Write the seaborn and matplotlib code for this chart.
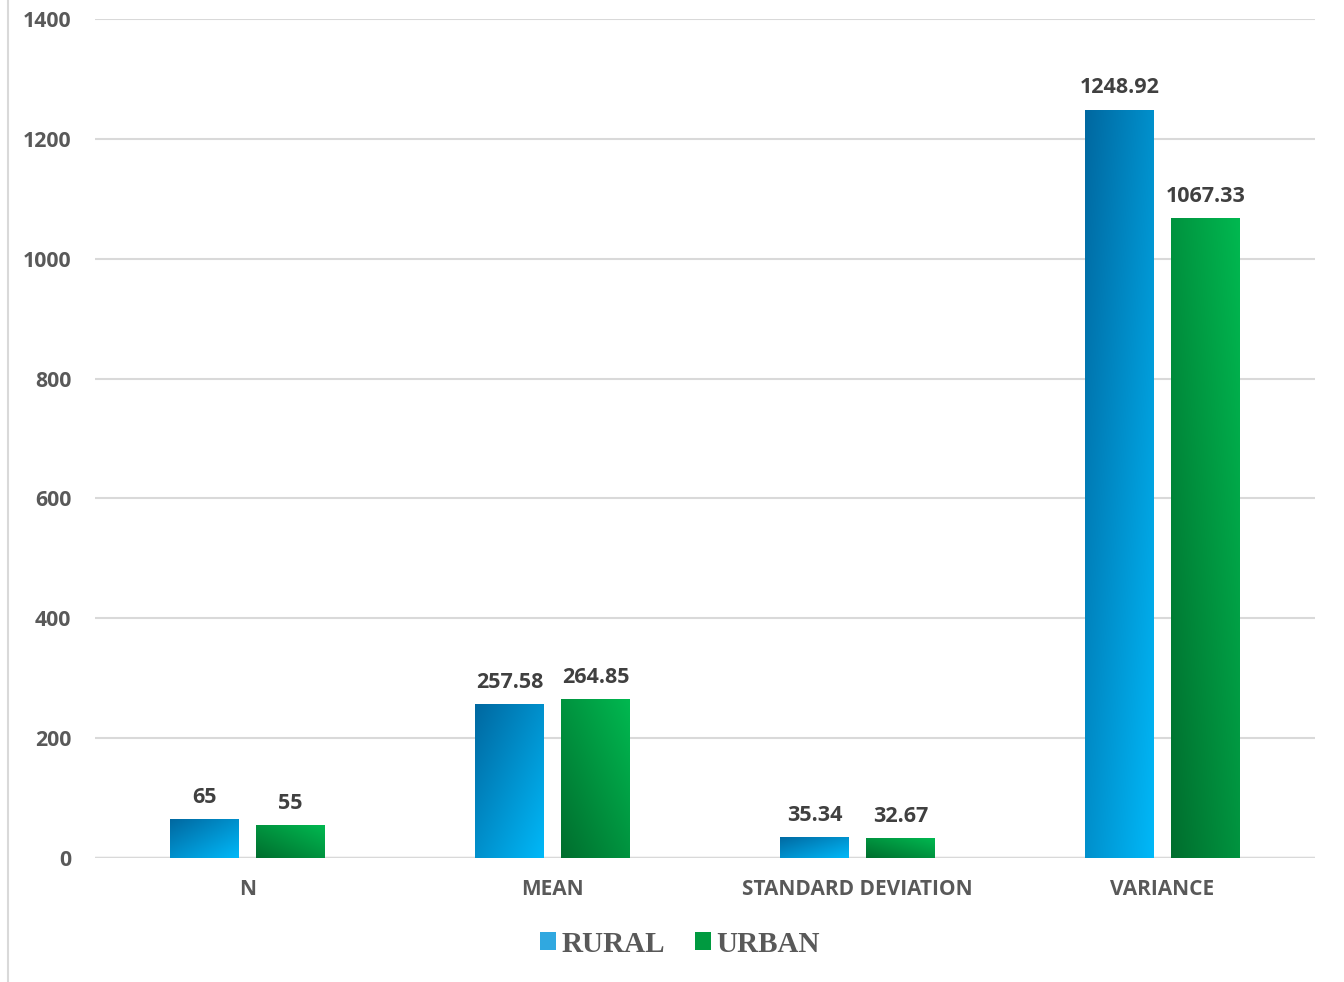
import numpy as np
import pandas as pd
import matplotlib
matplotlib.use("Agg")
import matplotlib.pyplot as plt
import seaborn as sns
from matplotlib.colors import to_rgb
from matplotlib.patches import Patch
from matplotlib.lines import Line2D

categories = ["N", "MEAN", "STANDARD DEVIATION", "VARIANCE"]
rural = [65, 257.58, 35.34, 1248.92]
urban = [55, 264.85, 32.67, 1067.33]
series = ["RURAL", "URBAN"]
yticks = [0, 200, 400, 600, 800, 1000, 1200, 1400]

df = pd.DataFrame({
    "category": categories * 2,
    "value": rural + urban,
    "group": [series[0]] * len(categories) + [series[1]] * len(categories),
})

sns.set_theme(style="white")
plt.rcParams["font.family"] = ["Open Sans", "DejaVu Sans"]

fig = plt.figure(figsize=(13.44, 9.82), dpi=100)
ax = fig.add_axes([95 / 1344, (982 - 858) / 982, (1315 - 95) / 1344, (858 - 19) / 982])

palette = {"RURAL": "#0090d0", "URBAN": "#00a044"}
sns.barplot(data=df, x="category", y="value", hue="group", order=categories,
            hue_order=series, palette=palette, width=0.564, gap=0.199,
            ax=ax, legend=False, errorbar=None)

ax.set_xlim(-0.5, 3.5)
ax.set_ylim(0, 1400)
ax.set_yticks(yticks)
ax.set_yticklabels([str(t) for t in yticks])

# gradients
grad = {
    "RURAL": (to_rgb("#0068a0"), to_rgb("#00b8f8"), "tl_br"),
    "URBAN": (to_rgb("#006e2e"), to_rgb("#00b850"), "bl_tr"),
}
n = 64
u = np.linspace(0, 1, n)
U, V = np.meshgrid(u, u)
for cont, s in zip(ax.containers, series):
    dark, light, mode = grad[s]
    for p in cont:
        x0, y0 = p.get_x(), p.get_y()
        w, h = p.get_width(), p.get_height()
        if mode == "tl_br":
            t = (U + (1 - V)) / 2
        else:
            t = (U + V) / 2
        img = np.zeros((n, n, 3))
        for k in range(3):
            img[..., k] = dark[k] + (light[k] - dark[k]) * t
        im = ax.imshow(img, extent=[x0, x0 + w, y0, y0 + h], origin="lower",
                       aspect="auto", interpolation="bilinear", zorder=2)
        im.set_clip_path(p)
        p.set_facecolor("none")
        p.set_edgecolor("none")
ax.set_xlim(-0.5, 3.5)
ax.set_ylim(0, 1400)
ax.set_aspect("auto")

# data labels
for cont in ax.containers:
    for p in cont:
        v = p.get_height()
        ax.annotate(f"{v:g}", (p.get_x() + p.get_width() / 2, v),
                    xytext=(0, 8), textcoords="offset points",
                    ha="center", va="bottom", fontsize=15.5,
                    fontweight="bold", color="#404040", zorder=5)

for s in ax.spines.values():
    s.set_visible(False)
ax.grid(axis="y", color="#d9d9d9", linewidth=1.5, zorder=0)
ax.grid(axis="x", visible=False)
ax.set_axisbelow(True)
ax.axhline(0, color="#d9d9d9", linewidth=2.5, zorder=1)
ax.set_xlabel("")
ax.set_ylabel("")
ax.tick_params(axis="y", length=0, pad=17, labelsize=15.3, labelcolor="#595959")
ax.tick_params(axis="x", length=0, pad=15, labelsize=15, labelcolor="#595959")
for lab in ax.get_xticklabels() + ax.get_yticklabels():
    lab.set_fontweight("bold")

handles = [Patch(facecolor="#30a8e0", edgecolor="none"),
           Patch(facecolor="#009a40", edgecolor="none")]
fig.legend(handles, series, loc="center", bbox_to_anchor=(680 / 1344, 1 - 944 / 982),
           ncol=2, frameon=False, handlelength=0.55, handleheight=0.55,
           handletextpad=0.2, columnspacing=1.0,
           prop={"family": "Liberation Serif", "weight": "bold", "size": 21},
           labelcolor="#595959")

fig.add_artist(Line2D([7.5 / 1344, 7.5 / 1344], [0, 1], color="#d9d9d9", linewidth=1.5))

fig.savefig("out.png", dpi=100)
